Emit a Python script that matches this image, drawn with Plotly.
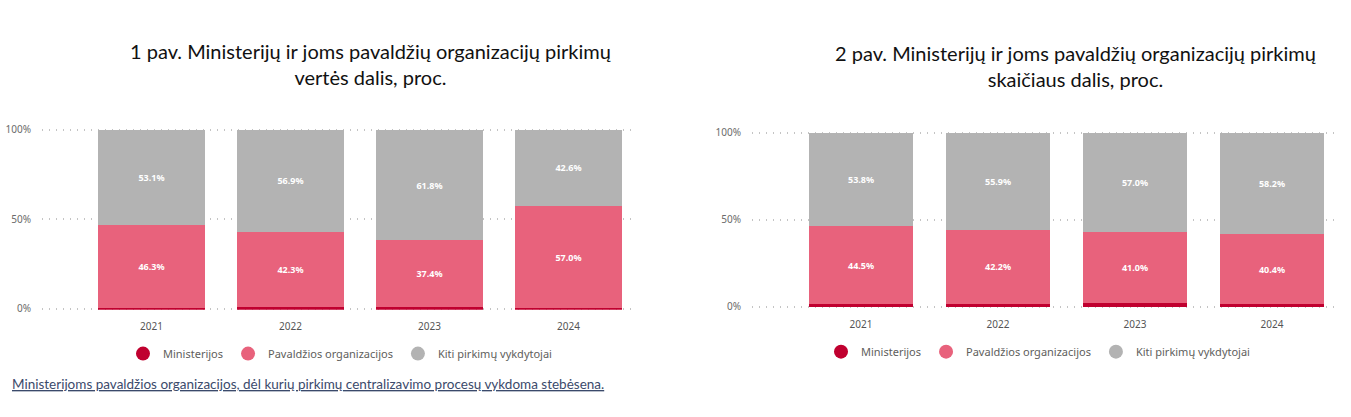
import plotly.graph_objects as go

years = ["2021", "2022", "2023", "2024"]
series_names = ["Ministerijos", "Pavaldžios organizacijos", "Kiti pirkimų vykdytojai"]
colors = ["#c0002f", "#e8627c", "#b3b3b3"]
y_tickvals = [0, 50, 100]
y_ticktext = ["0%", "50%", "100%"]

# Chart 1: value share, %
v_min = [0.6, 0.8, 0.8, 0.4]
v_pav = [46.3, 42.3, 37.4, 57.0]
v_kiti = [53.1, 56.9, 61.8, 42.6]

# Chart 2: count share, %
c_min = [1.7, 1.9, 2.0, 1.4]
c_pav = [44.5, 42.2, 41.0, 40.4]
c_kiti = [53.8, 55.9, 57.0, 58.2]

title1 = "1 pav. Ministerijų ir joms pavaldžių organizacijų pirkimų<br>vertės dalis, proc."
title2 = "2 pav. Ministerijų ir joms pavaldžių organizacijų pirkimų<br>skaičiaus dalis, proc."
footnote = "Ministerijoms pavaldžios organizacijos, dėl kurių pirkimų centralizavimo procesų vykdoma stebėsena."

W, H = 1351, 417
fig = go.Figure()

def add_chart(vals, xa, ya, legend, width):
    for i, (name, v) in enumerate(zip(series_names, vals)):
        fig.add_trace(go.Bar(
            x=years, y=v, name=name, xaxis=xa, yaxis=ya,
            marker=dict(color=colors[i], line=dict(width=0)),
            width=width, showlegend=False,
            text=None if i == 0 else [f"{x:.1f}%" for x in v],
            texttemplate=None if i == 0 else "<b>%{text}</b>",
            textposition="none" if i == 0 else "inside",
            insidetextanchor="middle",
            textfont=dict(color="white", size=9, family="Noto Sans"),
            hoverinfo="skip",
        ))
    for i, name in enumerate(series_names):
        fig.add_trace(go.Scatter(
            x=[None], y=[None], mode="markers", name=name, xaxis=xa, yaxis=ya,
            marker=dict(symbol="circle", size=14, color=colors[i]),
            legend=legend, showlegend=True,
        ))

add_chart([v_min, v_pav, v_kiti], "x", "y", "legend", 0.77)
add_chart([c_min, c_pav, c_kiti], "x2", "y2", "legend2", 0.76)

pad = 0.6  # small padding so gridlines at 0 and 100 are drawn
axis_y = dict(range=[-pad, 100 + pad], tickvals=y_tickvals, ticktext=y_ticktext,
              showgrid=True, gridcolor="#c4c4c4", griddash="1px,6px", gridwidth=1.5,
              zeroline=False, showline=False,
              tickfont=dict(size=10, color="#6b6b6b", family="Noto Sans"),
              ticklabelstandoff=10, fixedrange=True)
axis_x = dict(type="category", showgrid=False, showline=False, zeroline=False,
              tickfont=dict(size=10, color="#555555", family="Noto Sans"),
              ticks="", ticklabelstandoff=9)

def ydom(top, bottom):
    ppu = (bottom - top) / 100.0
    return [1 - (bottom + pad * ppu) / H, 1 - (top - pad * ppu) / H]

leg = dict(orientation="h", xanchor="center", yanchor="middle",
           font=dict(size=11, color="#605e5c", family="Noto Sans"),
           itemwidth=30, tracegroupgap=0, traceorder="normal", bgcolor="rgba(0,0,0,0)")

fig.update_layout(
    width=W, height=H,
    margin=dict(l=0, r=0, t=0, b=0),
    paper_bgcolor="white", plot_bgcolor="white",
    barmode="stack",
    xaxis=dict(axis_x, domain=[42 / W, 632 / W], range=[-0.788, 3.457], anchor="y"),
    yaxis=dict(axis_y, domain=ydom(127, 311), anchor="x"),
    xaxis2=dict(axis_x, domain=[752 / W, 1335 / W], range=[-0.796, 3.46], anchor="y2"),
    yaxis2=dict(axis_y, domain=ydom(130, 309), anchor="x2"),
    legend=dict(leg, x=340 / W, y=1 - 357 / H),
    legend2=dict(leg, x=1038 / W, y=1 - 355 / H),
    annotations=[
        dict(text=title1, x=371 / W, y=1 - 60 / H, xref="paper", yref="paper",
             xanchor="center", yanchor="middle", showarrow=False, align="center",
             font=dict(size=20, color="#111111", family="Lato")),
        dict(text=title2, x=1075 / W, y=1 - 62 / H, xref="paper", yref="paper",
             xanchor="center", yanchor="middle", showarrow=False, align="center",
             font=dict(size=20, color="#111111", family="Lato")),
        dict(text="<u>" + footnote + "</u>", x=10 / W, y=1 - 388 / H, xref="paper", yref="paper",
             xanchor="left", yanchor="middle", showarrow=False,
             font=dict(size=13.5, color="#3b4a6b", family="Lato")),
    ],
)

fig.write_html("out.html")
